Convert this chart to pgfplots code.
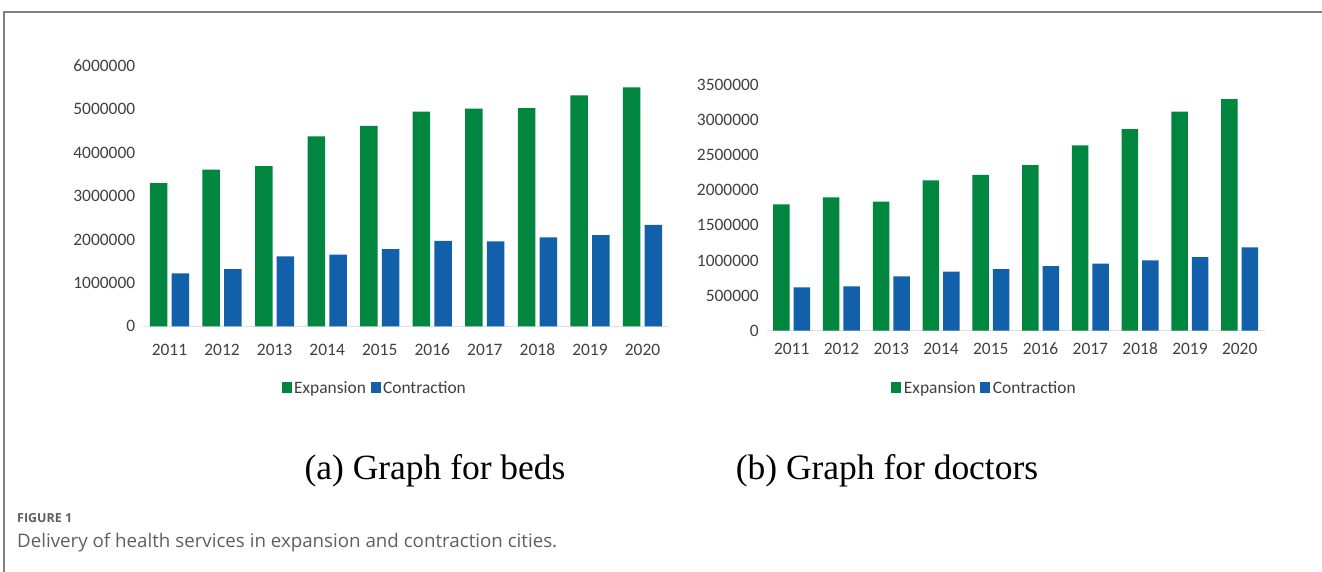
\documentclass[border=0pt]{standalone}
\usepackage{pgfplots}
\pgfplotsset{compat=1.18}
\usepackage{fontspec}
\setmainfont{Liberation Serif}
\newfontfamily\chartfont{Carlito}
\newfontfamily\capfont{Open Sans}
\definecolor{exgreen}{RGB}{0,134,62}
\definecolor{coblue}{RGB}{18,96,170}
\definecolor{tickgray}{RGB}{64,64,64}
\definecolor{framegray}{RGB}{128,128,128}
\definecolor{capgray}{RGB}{95,95,95}
\pgfplotsset{
  mybars/.style={
    scale only axis,
    anchor=south west,
    ybar=4.2bp,
    bar width=17.5bp,
    xmin=-0.5, xmax=9.5, ymin=0,
    xtick={0,...,9},
    xticklabels={2011,2012,2013,2014,2015,2016,2017,2018,2019,2020},
    axis x line=bottom,
    axis y line=left,
    x axis line style={draw=black!12,-},
    y axis line style={draw=none},
    major tick length=0pt,
    scaled y ticks=false,
    /pgf/number format/assume math mode=true,
    yticklabel style={/pgf/number format/fixed,/pgf/number format/1000 sep={},font=\chartfont\fontsize{17.5}{19}\selectfont,text=tickgray,xshift=-4.5bp},
    xticklabel style={font=\chartfont\fontsize{17.5}{19}\selectfont,text=tickgray,anchor=base},
    legend columns=2,
    legend style={draw=none,fill=none,font=\chartfont\fontsize{17.5}{19}\selectfont,text=tickgray,
      /tikz/every even column/.append style={column sep=2bp},inner sep=0pt,
      nodes={inner sep=2.5bp}},
  },
  sq/.style={legend image code/.code={\fill[##1] (0bp,-5.5bp) rectangle (10bp,5.5bp);}},
}
\begin{document}
\begin{tikzpicture}
\path[use as bounding box] (0,0) rectangle (1322bp,572bp);
\draw[framegray,line width=1.2bp] (4bp,0bp) -- (4bp,560bp) -- (1322bp,560bp);
% (a) beds
\begin{axis}[mybars, at={(143.2bp,245.7bp)}, width=525.6bp, height=260.3bp,
  ymax=6000000, ytick={0,1000000,2000000,3000000,4000000,5000000,6000000},
  xticklabel style={yshift=-29bp},
  legend style={at={(0.441,-0.237)},anchor=center}]
\addplot[fill=exgreen,draw=none,sq] coordinates {(0,3300000) (1,3610000) (2,3690000) (3,4380000) (4,4620000) (5,4950000) (6,5020000) (7,5030000) (8,5320000) (9,5510000)};
\addplot[fill=coblue,draw=none,sq] coordinates {(0,1220000) (1,1320000) (2,1610000) (3,1650000) (4,1780000) (5,1970000) (6,1960000) (7,2050000) (8,2100000) (9,2340000)};
\legend{Expansion,Contraction}
\end{axis}
% (b) doctors
\begin{axis}[mybars, at={(766.8bp,241.3bp)}, width=497.8bp, height=245.7bp,
  bar width=16.5bp, ybar=4bp,
  ymax=3500000, ytick={0,500000,1000000,1500000,2000000,2500000,3000000,3500000},
  xticklabel style={yshift=-24bp},
  legend style={at={(0.438,-0.233)},anchor=center}]
\addplot[fill=exgreen,draw=none,sq] coordinates {(0,1800000) (1,1900000) (2,1840000) (3,2140000) (4,2220000) (5,2360000) (6,2640000) (7,2870000) (8,3120000) (9,3300000)};
\addplot[fill=coblue,draw=none,sq] coordinates {(0,617000) (1,632000) (2,774000) (3,840000) (4,878000) (5,921000) (6,954000) (7,1002000) (8,1049000) (9,1187000)};
\legend{Expansion,Contraction}
\end{axis}
\node[font=\fontsize{35.6}{40}\selectfont] at (435bp,101bp) {(a) Graph for beds};
\node[font=\fontsize{35.6}{40}\selectfont] at (887bp,101bp) {(b) Graph for doctors};
\node[anchor=west,inner sep=0pt,font=\capfont\bfseries\fontsize{12.5}{14}\selectfont,text=capgray] at (17bp,54bp) {FIGURE 1};
\node[anchor=west,inner sep=0pt,font=\capfont\fontsize{18.8}{21}\selectfont,text=capgray] at (17bp,29bp) {Delivery of health services in expansion and contraction cities.};
\end{tikzpicture}
\end{document}
